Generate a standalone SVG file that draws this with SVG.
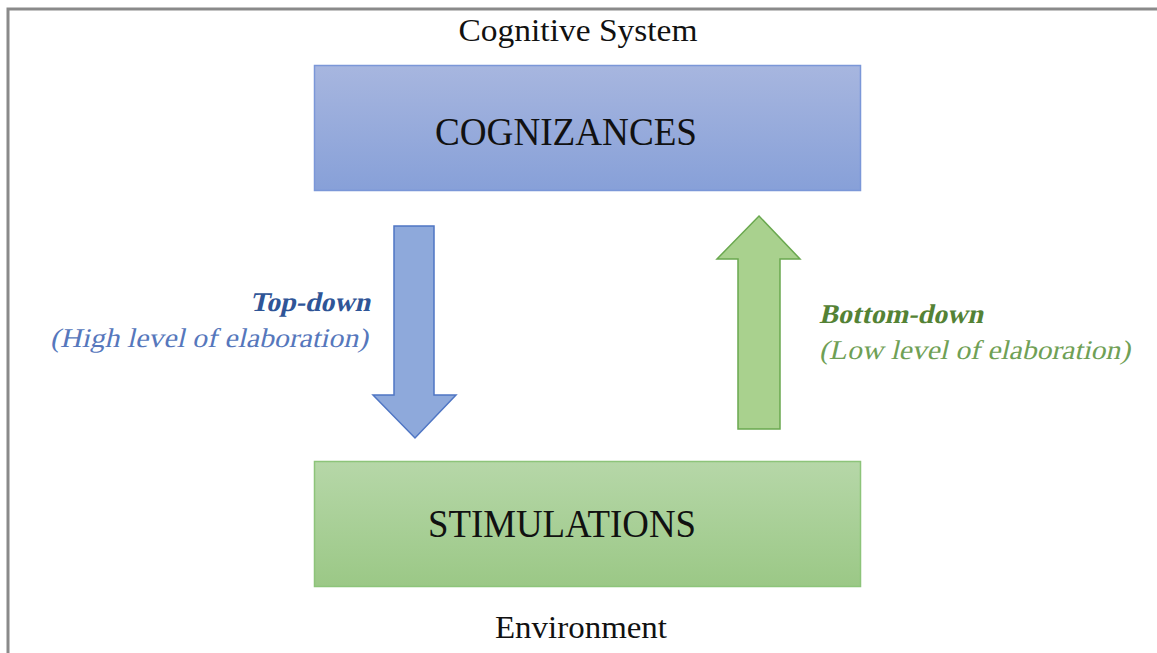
<svg xmlns="http://www.w3.org/2000/svg" width="1157" height="653" viewBox="0 0 1157 653">
<style>
.t{font-family:"Liberation Serif","Times New Roman",serif;fill:#111}
.lab{font-family:"Liberation Serif","Times New Roman",serif;font-size:27px}
.b{font-weight:bold}
</style>
<defs>
<linearGradient id="gb" x1="0" y1="0" x2="0" y2="1"><stop offset="0" stop-color="#A7B6DF"/><stop offset="1" stop-color="#87A0D8"/></linearGradient>
<linearGradient id="gg" x1="0" y1="0" x2="0" y2="1"><stop offset="0" stop-color="#B6D7A8"/><stop offset="1" stop-color="#9BC886"/></linearGradient>
</defs>
<rect width="1157" height="653" fill="#fff"/>
<path d="M8 653 V9 H1157" fill="none" stroke="#8a8a8a" stroke-width="3"/>
<text class="t" x="578" y="41" font-size="31" text-anchor="middle" textLength="239" lengthAdjust="spacingAndGlyphs">Cognitive System</text>
<g id="cognizances">
<rect x="314.5" y="65.5" width="546" height="125" fill="url(#gb)" stroke="#7B97D8" stroke-width="1.5"/>
<text class="t" x="566" y="145" font-size="40" text-anchor="middle" textLength="262" lengthAdjust="spacingAndGlyphs">COGNIZANCES</text>
</g>
<g id="stimulations">
<rect x="314.5" y="461.5" width="546" height="125" fill="url(#gg)" stroke="#8DC47A" stroke-width="1.5"/>
<text class="t" x="562" y="537" font-size="39" text-anchor="middle" textLength="268" lengthAdjust="spacingAndGlyphs">STIMULATIONS</text>
</g>
<text class="t" x="581" y="638" font-size="31" text-anchor="middle" textLength="172" lengthAdjust="spacingAndGlyphs">Environment</text>
<g id="connectors">
<g id="top-down">
<polygon points="394,226 434,226 434,395 456,395 415,438 373,395 394,395" fill="#8EA9DB" stroke="#4F76C4" stroke-width="1.5"/>
<g transform="translate(370,311) skewX(-13)">
<text class="lab b" x="0" y="0" fill="#2F5597" text-anchor="end" textLength="120" lengthAdjust="spacingAndGlyphs">Top-down</text>
</g>
<g transform="translate(368,347) skewX(-13)">
<text class="lab" x="0" y="0" fill="#5677BC" text-anchor="end" textLength="318" lengthAdjust="spacingAndGlyphs">(High level of elaboration)</text>
</g>
</g>
<g id="bottom-up">
<polygon points="759,216 800,259 780,259 780,429 738,429 738,259 717,259" fill="#A9D18E" stroke="#6AA84F" stroke-width="1.5"/>
<g transform="translate(819,323) skewX(-13)">
<text class="lab b" x="0" y="0" fill="#548235" textLength="164" lengthAdjust="spacingAndGlyphs">Bottom-down</text>
</g>
<g transform="translate(819,359) skewX(-13)">
<text class="lab" x="0" y="0" fill="#6FA055" textLength="311" lengthAdjust="spacingAndGlyphs">(Low level of elaboration)</text>
</g>
</g>
</g>
</svg>
